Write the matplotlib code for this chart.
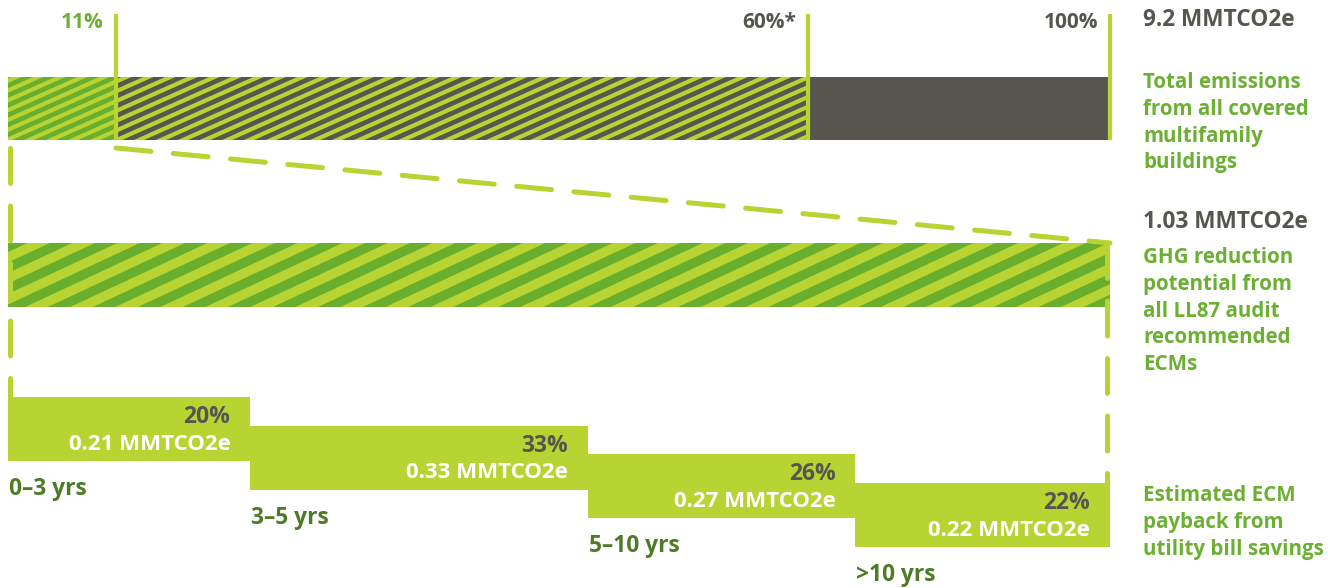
import numpy as np
import matplotlib
matplotlib.use("Agg")
import matplotlib.pyplot as plt
from matplotlib.collections import PolyCollection

plt.rcParams['font.family'] = ['Open Sans', 'DejaVu Sans']

# data
top_labels = ['11%', '60%*', '100%']
top_marks = [9.8, 72.6, 100]          # where the marks sit on the drawn bar (% of width)
total_label = '9.2 MMTCO2e'
ghg_label = '1.03 MMTCO2e'

payback_labels = ['0–3 yrs', '3–5 yrs', '5–10 yrs', '>10 yrs']
payback_share = [20, 33, 26, 22]
payback_mmt = [0.21, 0.33, 0.27, 0.22]
payback_width = [22.0, 30.6, 24.3, 23.1]   # drawn widths, % of bar

side_notes = ['Total emissions\nfrom all covered\nmultifamily\nbuildings',
              'GHG reduction\npotential from\nall LL87 audit\nrecommended\nECMs',
              'Estimated ECM\npayback from\nutility bill savings']

LIME = '#b8d432'
GREEN = '#6aae2e'
GREY = '#575750'
TXT_GREEN = '#6cb033'
TXT_DARK = '#4e7b26'
TXT_GREY = '#56564f'

PX = 11.02   # pixels per % of bar
fig = plt.figure(figsize=(13.28, 5.88), dpi=100)
ax = fig.add_axes([0, 0, 1, 1])
ax.set_xlim(-8 / PX, (1328 - 8) / PX)
ax.set_ylim(588, 0)
ax.axis('off')


def stripes(patch, v_period, angle, frac, color=LIME):
    x0, y0 = patch.get_x(), patch.get_y()
    w, h = patch.get_width(), patch.get_height()
    t = np.tan(np.radians(angle))
    polys = []
    span = t * (x0 + w) * PX
    for c in np.arange(y0 - v_period, y0 + h + span + v_period, v_period):
        c = c - (c % v_period)
        a, b = c, c + frac * v_period
        polys.append([(x0, a - t * x0 * PX), (x0, b - t * x0 * PX),
                      (x0 + w, b - t * (x0 + w) * PX), (x0 + w, a - t * (x0 + w) * PX)])
    pc = PolyCollection(polys, facecolors=color, edgecolors='none', zorder=patch.get_zorder() + 0.1)
    ax.add_collection(pc)
    pc.set_clip_path(patch)


# top bar: total emissions
top_y, top_h = 108.5, 63
segs = ax.barh([top_y] * 3, [top_marks[0], top_marks[1] - top_marks[0], top_marks[2] - top_marks[1]],
               left=[0, top_marks[0], top_marks[1]], height=top_h,
               color=[GREEN, GREY, GREY], zorder=2)
for p in list(segs)[:2]:
    stripes(p, 9.8, 24, 0.47)

# middle bar: GHG reduction potential
mid_y, mid_h = 275, 64
mid = ax.barh([mid_y], [100], left=[0], height=mid_h, color=GREEN, zorder=2)
stripes(mid[0], 21, 25, 0.5)

# mark lines on top bar
ax.vlines(top_marks, 14, top_y + top_h / 2, color=LIME, lw=3, zorder=4)
for m, lab, c in zip(top_marks, top_labels, [TXT_GREEN, TXT_GREY, TXT_GREY]):
    ax.text(m - 12 / PX, 22, lab, ha='right', va='center', fontsize=15,
            fontweight='bold', color=c)

# bottom step bars
steps_y = [429 + i * 28.7 for i in range(4)]
lefts = np.concatenate([[0], np.cumsum(payback_width)[:-1]])
ax.barh(steps_y, payback_width, left=lefts, height=64, color=LIME, zorder=2)
for y, l, w, s, v, lab in zip(steps_y, lefts, payback_width, payback_share, payback_mmt, payback_labels):
    ax.text(l + w - 20 / PX, y - 12, f'{s}%', ha='right', va='center', fontsize=16.5,
            fontweight='bold', color=TXT_GREY, zorder=3)
    ax.text(l + w - 20 / PX, y + 15, f'{v:.2f} MMTCO2e', ha='right', va='center', fontsize=16,
            fontweight='bold', color='white', zorder=3)
    ax.text(l + 1 / PX, y + 60, lab, ha='left', va='center', fontsize=16.4,
            fontweight='bold', color=TXT_DARK)

# dashed connectors
dash = dict(color=LIME, lw=3.6, dashes=(7, 4.5), solid_capstyle='round',
            dash_capstyle='round', zorder=3)
ax.plot([top_marks[0], 100], [top_y + top_h / 2 + 8, mid_y - mid_h / 2], **dash)
ax.plot([0.2, 0.2], [top_y + top_h / 2 + 8, steps_y[0] - 32], **dash)
ax.plot([99.7, 99.7], [mid_y - mid_h / 2, steps_y[-1] - 32], **dash)

# right-hand notes
xr = (1143 - 8) / PX
ax.text(xr, 20, total_label, ha='left', va='center', fontsize=16.3, fontweight='bold', color=TXT_GREY)
ax.text(xr, 222, ghg_label, ha='left', va='center', fontsize=16.3, fontweight='bold', color=TXT_GREY)
note_tops = [72, 247, 485]
for yt, note in zip(note_tops, side_notes):
    ax.text(xr, yt, note, ha='left', va='top', fontsize=14.8, fontweight='bold',
            color=TXT_GREEN, linespacing=1.36)

fig.savefig('out.png', dpi=100)
